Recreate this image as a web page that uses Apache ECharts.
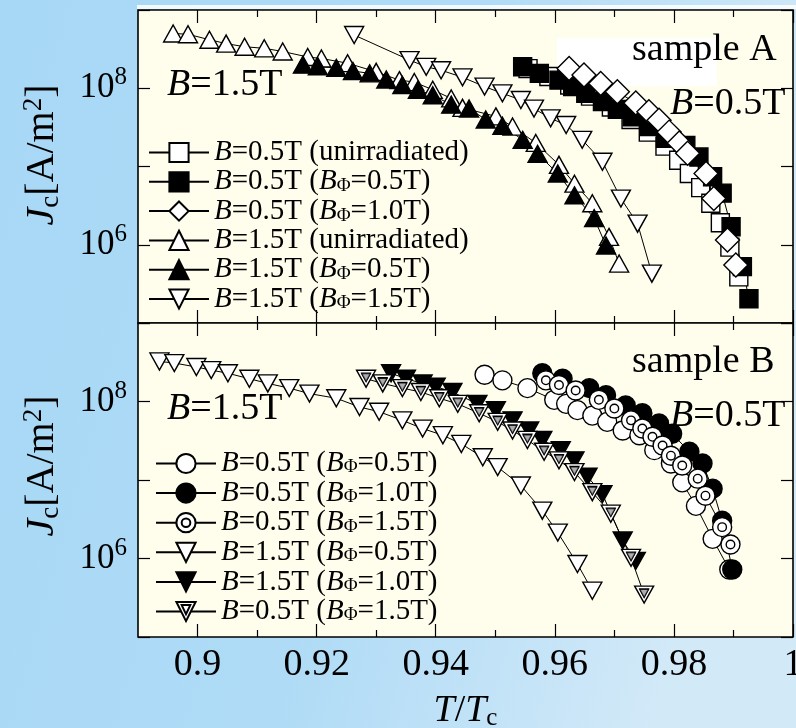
<!DOCTYPE html>
<html><head><meta charset="utf-8">
<script src="https://cdn.jsdelivr.net/npm/echarts@6/dist/echarts.min.js"></script>
<style>html,body{margin:0;padding:0;}#c{width:796px;height:728px;}</style>
</head><body><div id="c"></div>
<script>
// ---------- DATA (T/Tc, Jc in A/m^2) ----------
// Sample A
const a1x = [0.9555,0.9590,0.9625,0.9660,0.9695,0.9728,0.9757,0.9785,0.9808,0.9826,0.9845,0.9862,0.9878,0.9894,0.9909];
const a1y = [1.78e8,1.41e8,1.10e8,7.94e7,5.75e7,3.98e7,2.75e7,1.82e7,1.20e7,8.13e6,5.37e6,3.39e6,1.91e6,9.33e5,3.89e5];
const a2x = [0.9546,0.9574,0.9607,0.9630,0.9652,0.9680,0.9705,0.9730,0.9758,0.9786,0.9820,0.9842,0.9865,0.9881,0.9896,0.9915,0.9926];
const a2y = [1.88e8,1.55e8,1.27e8,1.05e8,8.61e7,6.76e7,5.37e7,4.33e7,3.24e7,2.29e7,1.86e7,1.32e7,7.41e6,4.57e6,1.70e6,5.25e5,2.04e5];
const a3x = [0.9624,0.9649,0.9677,0.9705,0.9736,0.9758,0.9775,0.9792,0.9809,0.9823,0.9854,0.9867,0.9890,0.9904];
const a3y = [1.79e8,1.48e8,1.15e8,9.02e7,6.46e7,5.01e7,3.89e7,2.75e7,2.00e7,1.48e7,8.13e6,3.89e6,1.15e6,5.50e5];
const a4x = [0.8959,0.8984,0.9020,0.9048,0.9079,0.9112,0.9143,0.9185,0.9208,0.9252,0.9300,0.9339,0.9364,0.9395,0.9426,0.9445,0.9501,0.9529,0.9568,0.9607,0.9633,0.9663,0.9691,0.9708];
const a4y = [5.01e8,4.90e8,4.17e8,3.72e8,3.39e8,3.24e8,2.95e8,2.51e8,2.40e8,2.09e8,1.62e8,1.27e8,1.20e8,9.55e7,7.41e7,5.62e7,4.37e7,3.24e7,2.00e7,1.05e7,6.03e6,3.39e6,1.26e6,5.75e5];
const a5x = [0.9177,0.9202,0.9233,0.9261,0.9289,0.9317,0.9344,0.9370,0.9395,0.9426,0.9456,0.9484,0.9512,0.9546,0.9571,0.9605,0.9633,0.9666,0.9686];
const a5y = [2.00e8,1.91e8,1.82e8,1.66e8,1.55e8,1.29e8,1.10e8,9.55e7,8.13e7,6.17e7,5.50e7,3.98e7,3.31e7,2.19e7,1.45e7,8.13e6,4.27e6,2.19e6,9.77e5];
const a6x = [0.9263,0.9356,0.9384,0.9409,0.9445,0.9482,0.9512,0.9543,0.9565,0.9593,0.9619,0.9646,0.9680,0.9711,0.9739,0.9763];
const a6y = [4.79e8,2.29e8,1.88e8,1.70e8,1.38e8,1.05e8,8.61e7,7.08e7,5.50e7,4.12e7,3.39e7,2.19e7,1.15e7,3.89e6,1.86e6,4.27e5];
// Sample B
const b1x = [0.9482,0.9512,0.9554,0.9599,0.9619,0.9638,0.9663,0.9688,0.9714,0.9742,0.9767,0.9795,0.9814,0.9837,0.9865,0.9893];
const b1y = [2.19e8,1.86e8,1.48e8,1.05e8,9.33e7,7.76e7,6.61e7,5.50e7,4.27e7,3.72e7,2.40e7,1.62e7,9.33e6,4.68e6,1.78e6,7.24e5];
const b2x = [0.9579,0.9613,0.9658,0.9686,0.9719,0.9747,0.9775,0.9797,0.9826,0.9848,0.9865,0.9881,0.9898];
const b2y = [2.29e8,1.95e8,1.48e8,1.20e8,8.91e7,7.08e7,5.25e7,3.89e7,2.29e7,1.62e7,7.76e6,3.02e6,7.24e5];
const b3x = [0.9585,0.9607,0.9635,0.9674,0.9700,0.9728,0.9747,0.9764,0.9781,0.9795,0.9814,0.9840,0.9853,0.9881,0.9895];
const b3y = [1.86e8,1.62e8,1.38e8,1.05e8,8.13e7,5.75e7,4.52e7,3.55e7,2.75e7,2.04e7,1.53e7,1.04e7,6.31e6,2.51e6,1.51e6];
const b4x = [0.8936,0.8961,0.8998,0.9023,0.9051,0.9087,0.9118,0.9154,0.9188,0.9233,0.9272,0.9305,0.9344,0.9378,0.9412,0.9443,0.9479,0.9504,0.9543,0.9579,0.9605,0.9638,0.9663];
const b4y = [3.24e8,3.09e8,2.75e8,2.51e8,2.29e8,1.95e8,1.70e8,1.48e8,1.26e8,1.10e8,8.51e7,7.41e7,5.75e7,4.52e7,3.72e7,2.88e7,1.95e7,1.46e7,8.51e6,4.07e6,2.14e6,8.51e5,3.89e5];
const b5x = [0.9325,0.9350,0.9378,0.9400,0.9428,0.9470,0.9501,0.9529,0.9557,0.9579,0.9610,0.9633,0.9655,0.9680,0.9714,0.9736];
const b5y = [2.29e8,1.95e8,1.70e8,1.55e8,1.32e8,9.33e7,7.76e7,5.75e7,4.27e7,3.24e7,2.40e7,1.78e7,1.10e7,6.61e6,1.70e6,9.33e5];
const b6x = [0.9283,0.9311,0.9344,0.9375,0.9406,0.9437,0.9473,0.9504,0.9529,0.9554,0.9582,0.9607,0.9633,0.9663,0.9694,0.9728,0.9750];
const b6y = [1.95e8,1.70e8,1.48e8,1.32e8,1.10e8,9.33e7,7.08e7,5.50e7,4.27e7,3.24e7,2.29e7,1.78e7,1.26e7,7.00e6,3.72e6,1.02e6,3.47e5];

// Tick values / labels
const xMajor = [0.9,0.92,0.94,0.96,0.98,1.0];
const xMajorLabels = ['0.9','0.92','0.94','0.96','0.98','1'];
const xMinor = [0.91,0.93,0.95,0.97,0.99];
const yLabelExps = [6,8];

// Legend texts
const topNames = ['A1','A2','A3','A4','A5','A6'];
const topLabels = ['{i|B}=0.5T (unirradiated)','{i|B}=0.5T ({i|B}{s|Φ}=0.5T)','{i|B}=0.5T ({i|B}{s|Φ}=1.0T)',
  '{i|B}=1.5T (unirradiated)','{i|B}=1.5T ({i|B}{s|Φ}=0.5T)','{i|B}=1.5T ({i|B}{s|Φ}=1.5T)'];
const botNames = ['B1','B2','B3','B4','B5','B6'];
const botLabels = ['{i|B}=0.5T ({i|B}{s|Φ}=0.5T)','{i|B}=0.5T ({i|B}{s|Φ}=1.0T)','{i|B}=0.5T ({i|B}{s|Φ}=1.5T)',
  '{i|B}=1.5T ({i|B}{s|Φ}=0.5T)','{i|B}=1.5T ({i|B}{s|Φ}=1.0T)','{i|B}=0.5T ({i|B}{s|Φ}=1.5T)'];

// ---------- CHART ----------
const FONT = '"Liberation Serif","Times New Roman",serif';
const chart = echarts.init(document.getElementById('c'), null, {renderer:'canvas'});
const labelMap = {};
topNames.forEach((n,i)=>labelMap[n]=topLabels[i]);
botNames.forEach((n,i)=>labelMap[n]=botLabels[i]);

const DOWN = 'path://M0,0L20,0L10,18Z';
const BULL = 'path://M0,10a10,10 0 1,0 20,0a10,10 0 1,0 -20,0ZM5.5,10a4.5,4.5 0 1,0 9,0a4.5,4.5 0 1,0 -9,0Z';
const DOWN2 = 'path://M0,0L20,0L10,18ZM5.5,3L14.5,3L10,11.5Z';

function pts(xs, ys){ return xs.map((x,i)=>[x, ys[i]]); }
function ser(name, g, xs, ys, symbol, size, fill, extra){
  return Object.assign({
    name: name, type:'line', xAxisIndex: g===0?0:4, yAxisIndex: g===0?0:2,
    data: pts(xs, ys), symbol: symbol, symbolSize: size, showSymbol:true,
    lineStyle:{color:'#000', width:1}, itemStyle:{color: fill, borderColor:'#000', borderWidth:1.4},
    emphasis:{disabled:true}, animation:false
  }, extra||{});
}

function xAx(g, pos, major, labels){
  return {
    gridIndex:g, type:'value', min:0.89, max:1.0, position:pos,
    axisLine:{show:false}, splitLine:{show:false},
    axisTick:{show:true, inside:true, length: major?13:7, customValues: major?xMajor:xMinor, lineStyle:{color:'#000', width:1.2}},
    axisLabel:{show:labels, customValues:xMajor, margin:9, color:'#000', fontFamily:FONT, fontSize:38,
      alignMaxLabel:'center', alignMinLabel:'center', hideOverlap:false,
      formatter:(v)=>{ let k=0,b=1e9; xMajor.forEach((m,i)=>{const d=Math.abs(m-v); if(d<b){b=d;k=i;}}); return xMajorLabels[k]; }},
    name: labels ? '{i|T}{n|/}{i|T}{c|c}' : '',
    nameLocation:'middle', nameGap:54,
    nameTextStyle:{color:'#000', fontFamily:FONT, fontSize:38, rich:{
      i:{fontFamily:FONT, fontSize:38, fontStyle:'italic', color:'#000', lineHeight:40},
      n:{fontFamily:FONT, fontSize:38, color:'#000', lineHeight:40},
      c:{fontFamily:FONT, fontSize:25, color:'#000', verticalAlign:'bottom', lineHeight:30}
    }}
  };
}
function yAx(g, pos, labels){
  return {
    gridIndex:g, type:'log', logBase:10, min:1e5, max:1e9, position:pos,
    axisLine:{show:false}, splitLine:{show:false},
    axisTick:{show:true, inside:true, length:12, lineStyle:{color:'#000', width:1.2}},
    axisLabel:{show:labels, margin:11, color:'#000', fontFamily:FONT, fontSize:35,
      formatter:(v)=>{ const e=Math.round(Math.log10(v)); return yLabelExps.indexOf(e)>=0 ? '{b|10}{p|'+e+'}' : ''; },
      rich:{ b:{fontFamily:FONT, fontSize:35, color:'#000', lineHeight:46},
             p:{fontFamily:FONT, fontSize:25, color:'#000', verticalAlign:'top', lineHeight:20} }}
  };
}

function leg(names, left, top, lh, gap){
  return {
    data:names, left:left, top:top, orient:'vertical', itemWidth:60, itemHeight:24, itemGap:gap,
    selectedMode:false, padding:0,
    formatter:(n)=>labelMap[n],
    textStyle:{color:'#000', fontFamily:FONT, fontSize:29, lineHeight:lh, rich:{
      i:{fontFamily:FONT, fontSize:29, fontStyle:'italic', color:'#000', lineHeight:lh},
      s:{fontFamily:FONT, fontSize:19, color:'#000', verticalAlign:'bottom', lineHeight:20}
    }}
  };
}

function txt(x, y, text, size){
  return {type:'text', x:x, y:y, z:100, style:{text:text, fill:'#000', font:size+'px '+FONT, verticalAlign:'middle',
    rich:{i:{fontFamily:FONT, fontSize:size, fontStyle:'italic', fill:'#000'}}}};
}
const yNameRich = {
  i:{fontFamily:FONT, fontSize:40, fontStyle:'italic', fill:'#000', lineHeight:44},
  n:{fontFamily:FONT, fontSize:40, fill:'#000', lineHeight:44},
  c:{fontFamily:FONT, fontSize:27, fill:'#000', verticalAlign:'bottom', lineHeight:36},
  p:{fontFamily:FONT, fontSize:27, fill:'#000', verticalAlign:'top', lineHeight:44}
};
function yName(y){
  return {type:'text', x:42, y:y, rotation:Math.PI/2, z:100,
    style:{text:'{i|J}{c|c}{n|[A/m}{p|2}{n|]}', align:'center', verticalAlign:'middle', fill:'#000', rich:yNameRich}};
}

const option = {
  animation:false,
  backgroundColor:{type:'linear', x:0, y:0, x2:1, y2:0.3, colorStops:[
    {offset:0, color:'#a7d8f6'},{offset:0.55, color:'#afdbf6'},{offset:1, color:'#d2e9f8'}]},
  grid:[
    {left:138, top:10, width:655, height:313, show:true, backgroundColor:'#fffdec', borderColor:'#000', borderWidth:1.6, z:0, outerBoundsMode:'none'},
    {left:138, top:323, width:655, height:314, show:true, backgroundColor:'#fffdec', borderColor:'#000', borderWidth:1.6, z:0, outerBoundsMode:'none'}
  ],
  xAxis:[
    xAx(0,'bottom',true,false), xAx(0,'bottom',false,false), xAx(0,'top',true,false), xAx(0,'top',false,false),
    xAx(1,'bottom',true,true), xAx(1,'bottom',false,false), xAx(1,'top',true,false), xAx(1,'top',false,false)
  ],
  yAxis:[ yAx(0,'left',true), yAx(0,'right',false), yAx(1,'left',true), yAx(1,'right',false) ],
  legend:[ leg(topNames, 148, 138, 28, 0.3), leg(botNames, 155, 449, 27, 0.6) ],
  graphic:[
    {type:'rect', z:1, shape:{x:137, y:5, width:659, height:4}, style:{fill:'#ffffff', opacity:0.85}},
    {type:'rect', z:1, shape:{x:557, y:38, width:160, height:48}, style:{fill:'#ffffff'}},
    txt(632, 50, 'sample A', 38),
    txt(167, 85, '{i|B}=1.5T', 38),
    txt(670, 104, '{i|B}=0.5T', 38),
    txt(632, 362, 'sample B', 38),
    txt(167, 409, '{i|B}=1.5T', 38),
    txt(670, 416, '{i|B}=0.5T', 38),
    yName(155), yName(466)
  ],
  series:[
    ser('A1',0,a1x,a1y,'rect',18,'#fff'),
    ser('A2',0,a2x,a2y,'rect',18,'#000'),
    ser('A3',0,a3x,a3y,'diamond',24,'#fff'),
    ser('A4',0,a4x,a4y,'triangle',[19,17],'#fff'),
    ser('A5',0,a5x,a5y,'triangle',[19,17],'#000'),
    ser('A6',0,a6x,a6y,DOWN,[19,17],'#fff'),
    ser('B4',1,b4x,b4y,DOWN,[19,17],'#fff'),
    ser('B5',1,b5x,b5y,DOWN,[19,17],'#000'),
    ser('B6',1,b6x,b6y,DOWN2,[19,17],'#fff'),
    {type:'scatter', xAxisIndex:4, yAxisIndex:2, data:pts(b6x,b6y), symbol:DOWN, symbolSize:[9,8], symbolOffset:[0,-1],
     itemStyle:{color:'#9a9a9a', borderColor:'#000', borderWidth:1}, silent:true, z:3, animation:false},
    ser('B1',1,b1x,b1y,'circle',19,'#fff'),
    ser('B2',1,b2x,b2y,'circle',19,'#000'),
    ser('B3',1,b3x,b3y,BULL,19,'#fff')
  ]
};
chart.setOption(option);
</script></body></html>
